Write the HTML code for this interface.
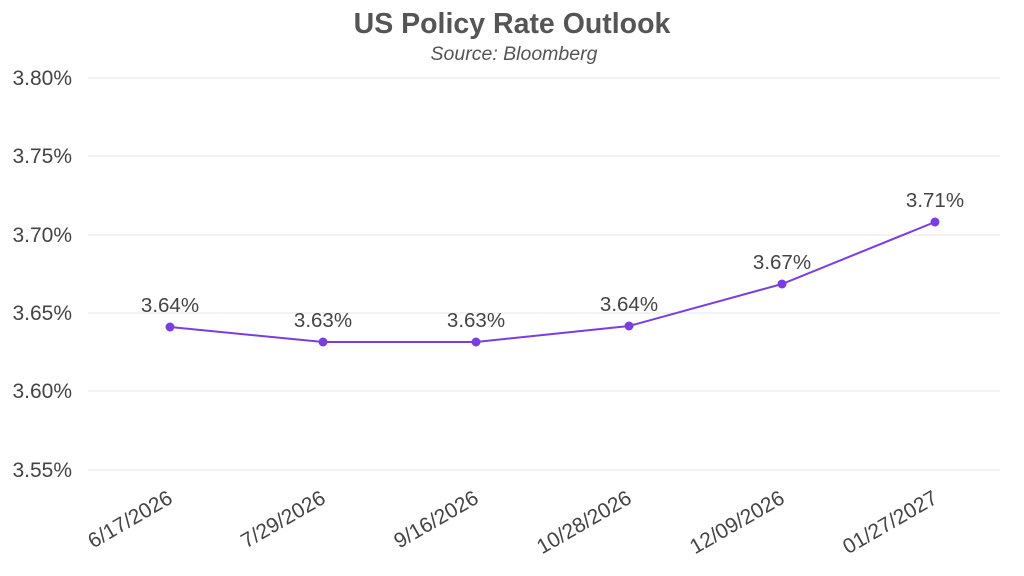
<!DOCTYPE html>
<html><head><meta charset="utf-8"><style>
html,body{margin:0;padding:0;background:#fff;}
svg{display:block;font-family:"Liberation Sans",sans-serif;}
</style></head><body>
<svg width="1024" height="576" viewBox="0 0 1024 576">
<text x="512" y="33" text-anchor="middle" font-size="28.5" font-weight="bold" fill="#555">US Policy Rate Outlook</text>
<text x="514" y="60" text-anchor="middle" font-size="19.5" font-style="italic" fill="#555">Source: Bloomberg</text>
<g stroke="#e6e6e6" stroke-width="1">
<line x1="88" x2="1000" y1="78" y2="78"/>
<line x1="88" x2="1000" y1="156" y2="156"/>
<line x1="88" x2="1000" y1="235" y2="235"/>
<line x1="88" x2="1000" y1="313" y2="313"/>
<line x1="88" x2="1000" y1="391" y2="391"/>
<line x1="88" x2="1000" y1="470" y2="470"/>
</g>
<g font-size="21" fill="#444" text-anchor="end">
<text x="72" y="85">3.80%</text>
<text x="72" y="163">3.75%</text>
<text x="72" y="242">3.70%</text>
<text x="72" y="320">3.65%</text>
<text x="72" y="398">3.60%</text>
<text x="72" y="477">3.55%</text>
</g>
<polyline fill="none" stroke="#7a3ee0" stroke-width="2" points="170,327 323,342 476,342 629,326 782,284 935,222"/>
<g fill="#7a3ee0">
<circle cx="170" cy="327" r="4.5"/><circle cx="323" cy="342" r="4.5"/><circle cx="476" cy="342" r="4.5"/>
<circle cx="629" cy="326" r="4.5"/><circle cx="782" cy="284" r="4.5"/><circle cx="935" cy="222" r="4.5"/>
</g>
<g font-size="20.5" fill="#444" text-anchor="middle">
<text x="170" y="312">3.64%</text>
<text x="323" y="327">3.63%</text>
<text x="476" y="327">3.63%</text>
<text x="629" y="311">3.64%</text>
<text x="782" y="269">3.67%</text>
<text x="935" y="207">3.71%</text>
</g>
<g font-size="21" fill="#444" text-anchor="end">
<text transform="translate(174,502) rotate(-30)">6/17/2026</text>
<text transform="translate(327,502) rotate(-30)">7/29/2026</text>
<text transform="translate(480,502) rotate(-30)">9/16/2026</text>
<text transform="translate(633,502) rotate(-30)">10/28/2026</text>
<text transform="translate(786,502) rotate(-30)">12/09/2026</text>
<text transform="translate(939,502) rotate(-30)">01/27/2027</text>
</g>
</svg>
</body></html>
